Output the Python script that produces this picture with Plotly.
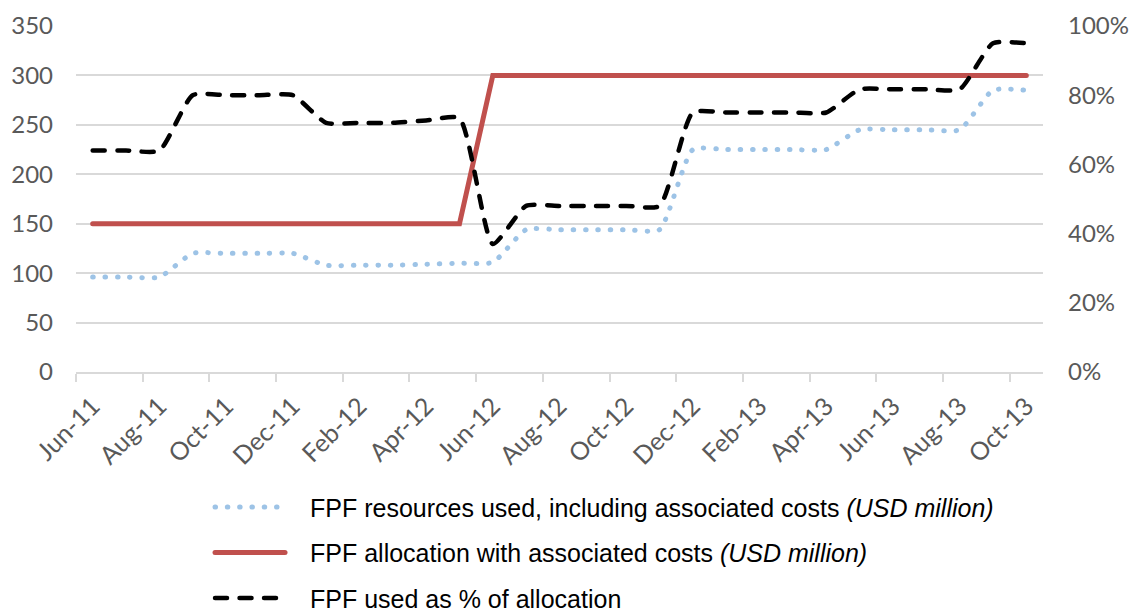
import plotly.graph_objects as go

months = ["Jun-11", "Jul-11", "Aug-11", "Sep-11", "Oct-11", "Nov-11", "Dec-11",
          "Jan-12", "Feb-12", "Mar-12", "Apr-12", "May-12", "Jun-12", "Jul-12",
          "Aug-12", "Sep-12", "Oct-12", "Nov-12", "Dec-12", "Jan-13", "Feb-13",
          "Mar-13", "Apr-13", "May-13", "Jun-13", "Jul-13", "Aug-13", "Sep-13",
          "Oct-13"]

resources_used = [96, 96, 96, 120, 120, 120, 120, 108, 108, 108, 109, 110, 111,
                  144, 144, 144, 144, 144, 225, 225, 225, 225, 225, 245, 245,
                  245, 245, 285, 285]

allocation = [150, 150, 150, 150, 150, 150, 150, 150, 150, 150, 150, 150, 300,
              300, 300, 300, 300, 300, 300, 300, 300, 300, 300, 300, 300, 300,
              300, 300, 300]

used_pct = [64, 64, 64, 80, 80, 80, 80, 72, 72, 72, 72.7, 73.3, 37, 48, 48, 48,
            48, 48, 75, 75, 75, 75, 75, 81.7, 81.7, 81.7, 81.7, 95, 95]

left_ticks = [0, 50, 100, 150, 200, 250, 300, 350]
right_ticks = [0, 20, 40, 60, 80, 100]
right_labels = ["0%", "20%", "40%", "60%", "80%", "100%"]

names = ["FPF resources used, including associated costs <i>(USD million)</i>",
         "FPF allocation with associated costs <i>(USD million)</i>",
         "FPF used as % of allocation"]

idx = list(range(len(months)))
label_idx = idx[::2]
label_txt = [months[i] for i in label_idx]
edge_vals = [i - 0.5 for i in label_idx]

fig = go.Figure()
fig.add_trace(go.Scatter(x=idx, y=resources_used, mode="lines", name=names[0],
                         line=dict(color="#9DC3E6", width=5, dash="0.5px,11.8px",
                                   shape="spline", smoothing=0.55),
                         legendgroup="a", yaxis="y"))
fig.add_trace(go.Scatter(x=idx, y=allocation, mode="lines", name=names[1],
                         line=dict(color="#C0504D", width=5),
                         legendgroup="b", yaxis="y"))
fig.add_trace(go.Scatter(x=idx, y=used_pct, mode="lines", name=names[2],
                         line=dict(color="#000000", width=4.5, dash="12px,12.5px",
                                   shape="spline", smoothing=0.55),
                         legendgroup="c", yaxis="y2"))

yfont = dict(family="Lato, Open Sans, sans-serif", size=24, color="#595959")
xfont = dict(family="Lato, Open Sans, sans-serif", size=25, color="#595959")

fig.update_layout(
    width=1129, height=613,
    margin=dict(l=76, r=86, t=26, b=241),
    paper_bgcolor="white", plot_bgcolor="white",
    showlegend=True,
    legend=dict(x=0.1386, y=0.21, xref="paper", yref="container",
                xanchor="left", yanchor="top", itemwidth=90,
                font=dict(family="Liberation Sans, Arial, sans-serif", size=25, color="#000000"),
                traceorder="grouped", tracegroupgap=10, bgcolor="rgba(0,0,0,0)"),
    xaxis=dict(range=[-0.5, 28.5], tickmode="array", tickvals=label_idx,
               ticktext=label_txt, tickangle=-45, ticks="", tickfont=xfont,
               showgrid=False, showline=True, linecolor="#D9D9D9", linewidth=1.5,
               zeroline=False, ticklabelstandoff=8, automargin=False,
               minor=dict(tickmode="array", tickvals=edge_vals, ticks="outside",
                          ticklen=8, tickwidth=1.5, tickcolor="#D9D9D9", showgrid=False)),
    yaxis=dict(range=[0, 350], tickmode="array", tickvals=left_ticks,
               showgrid=True, gridcolor="#D9D9D9", gridwidth=1.5, zeroline=False,
               showline=False, ticks="", tickfont=yfont, ticklabelstandoff=22,
               automargin=False),
    yaxis2=dict(range=[0, 100], tickmode="array", tickvals=right_ticks,
                ticktext=right_labels, overlaying="y", side="right", showgrid=False,
                zeroline=False, showline=False, ticks="", tickfont=yfont,
                ticklabelstandoff=24, automargin=False),
)

post = """
var s = document.createElement('style');
s.textContent = 'body{margin:0;} .js-line{stroke-linecap:round !important;}';
document.head.appendChild(s);
document.querySelectorAll('.legend path.js-line').forEach(function(p){ p.setAttribute('d', 'M5,0h70'); });
"""

fig.write_html("out.html", post_script=post, config={"displayModeBar": False})
